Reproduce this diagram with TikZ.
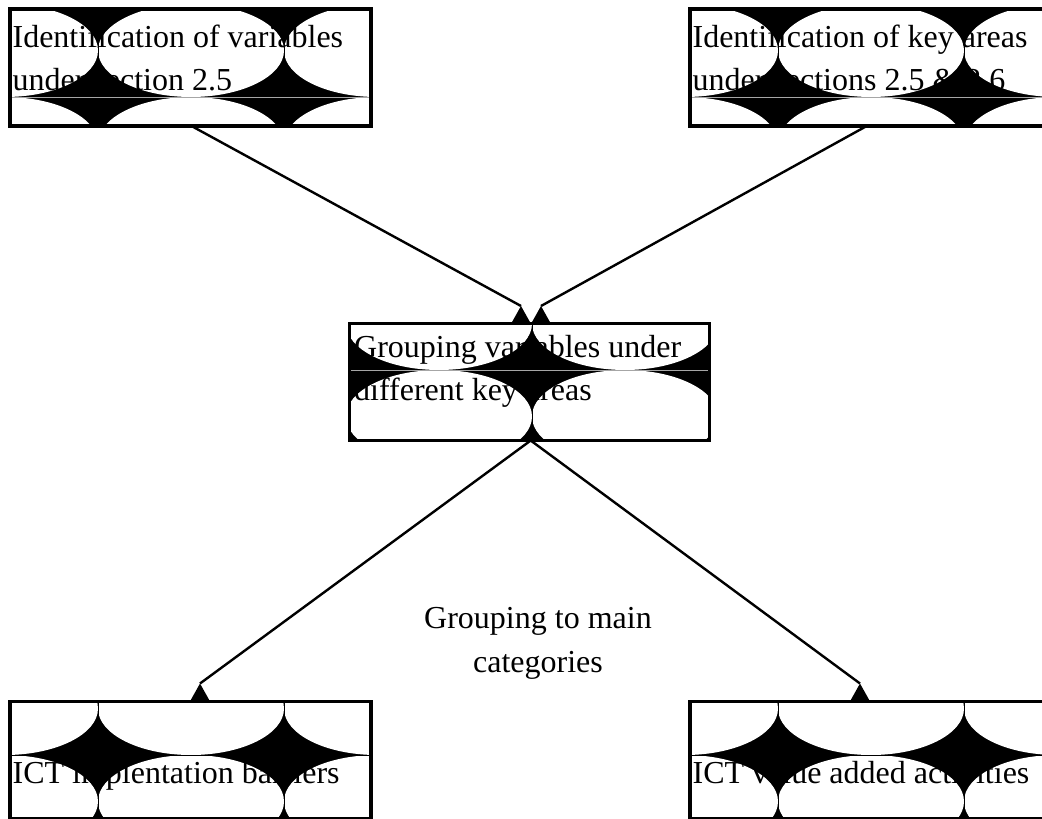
\documentclass[tikz,border=0pt]{standalone}
\usepackage{fontspec}
\setmainfont{Liberation Serif}
\pgfdeclarelayer{tiles}
\pgfsetlayers{tiles,main}
\tikzset{
  box/.style={draw, line width=3.8pt, minimum width=361pt, minimum height=117pt,
    inner sep=0pt, outer sep=0pt},
  boxtext/.style={font=\fontsize{32}{43}\selectfont, inner sep=0pt, align=left, anchor=base west},
  notetext/.style={font=\fontsize{32}{44}\selectfont, inner sep=0pt, align=center, anchor=base},
  cusp/.style={line width=0.8pt},
  link/.style={line width=2.4pt},
  headmark/.pic={\fill[black] (0,0) -- (-9.5,17) -- (9.5,17) -- cycle;}
}
% Black tiling with white tangent ellipses inside a box:
% #1 box node, #2/#3 lattice origin (star centre), #4 colour of the horizontal cusp line
\newcommand\boxtiles[4]{%
  \begin{scope}
    \clip (#1.north west) rectangle (#1.south east);
    \fill[black] (#1.north west) rectangle (#1.south east);
    \foreach \i in {-2,...,2}{%
      \foreach \j in {-2,...,1}{%
        \fill[white] ({#2+93+186*\i},{#3+46.5+93*\j}) ellipse [x radius=93, y radius=46.5];
      }%
      \draw[cusp] ({#2+186*\i},{#3-200}) -- ({#2+186*\i},{#3+200});
    }%
    \draw[cusp,#4] (-200,#3) -- (1300,#3);
  \end{scope}}
\begin{document}
\begin{tikzpicture}[x=1pt,y=-1pt]
\useasboundingbox (0,0) rectangle (1042,819);

% boxes
\node[box] (b1) at (190.5,67.5) {};
\node[box] (b2) at (870.5,67.5) {};
\node[box, minimum width=360pt] (b3) at (529.5,382) {};
\node[box] (b4) at (190.5,760) {};
\node[box] (b5) at (870.5,760) {};

% tiled fill behind the texts and borders
\begin{pgfonlayer}{tiles}
  \boxtiles{b1}{98}{97}{black!35}
  \boxtiles{b2}{778}{97}{black!35}
  \boxtiles{b3}{532}{370}{black!35}
  \boxtiles{b4}{98}{755}{black}
  \boxtiles{b5}{778}{755}{black}
\end{pgfonlayer}

% texts (multi-line nodes sit on the baseline of their last line)
\node[boxtext] (t1) at (12.4,90) {Identification of variables\\under section 2.5};
\node[boxtext] (t2) at (692.4,90) {Identification of key areas\\under sections 2.5 \& 2.6};
\node[boxtext] (t3) at (354,400) {Grouping variables under\\different key areas};
\node[boxtext] (t4) at (12.4,783) {ICT implentation barriers};
\node[boxtext] (t5) at (692.4,783) {ICT value added activities};
\node[notetext] (n1) at (538,672) {Grouping to main\\categories};

% connectors with upright triangle marks
\coordinate (h1) at (521,306);
\coordinate (h2) at (541,306);
\coordinate (h3) at (200,683.5);
\coordinate (h4) at (860,683.5);
\draw[link] ([xshift=181.5pt]b1.south west) -- (h1);
\draw[link] ([xshift=176.7pt]b2.south west) -- (h2);
\draw[link] ([xshift=1.2pt]b3.south) -- (h3);
\draw[link] ([xshift=1.2pt]b3.south) -- (h4);
\foreach \h in {h1,h2,h3,h4} \pic at (\h) {headmark};
\end{tikzpicture}
\end{document}
